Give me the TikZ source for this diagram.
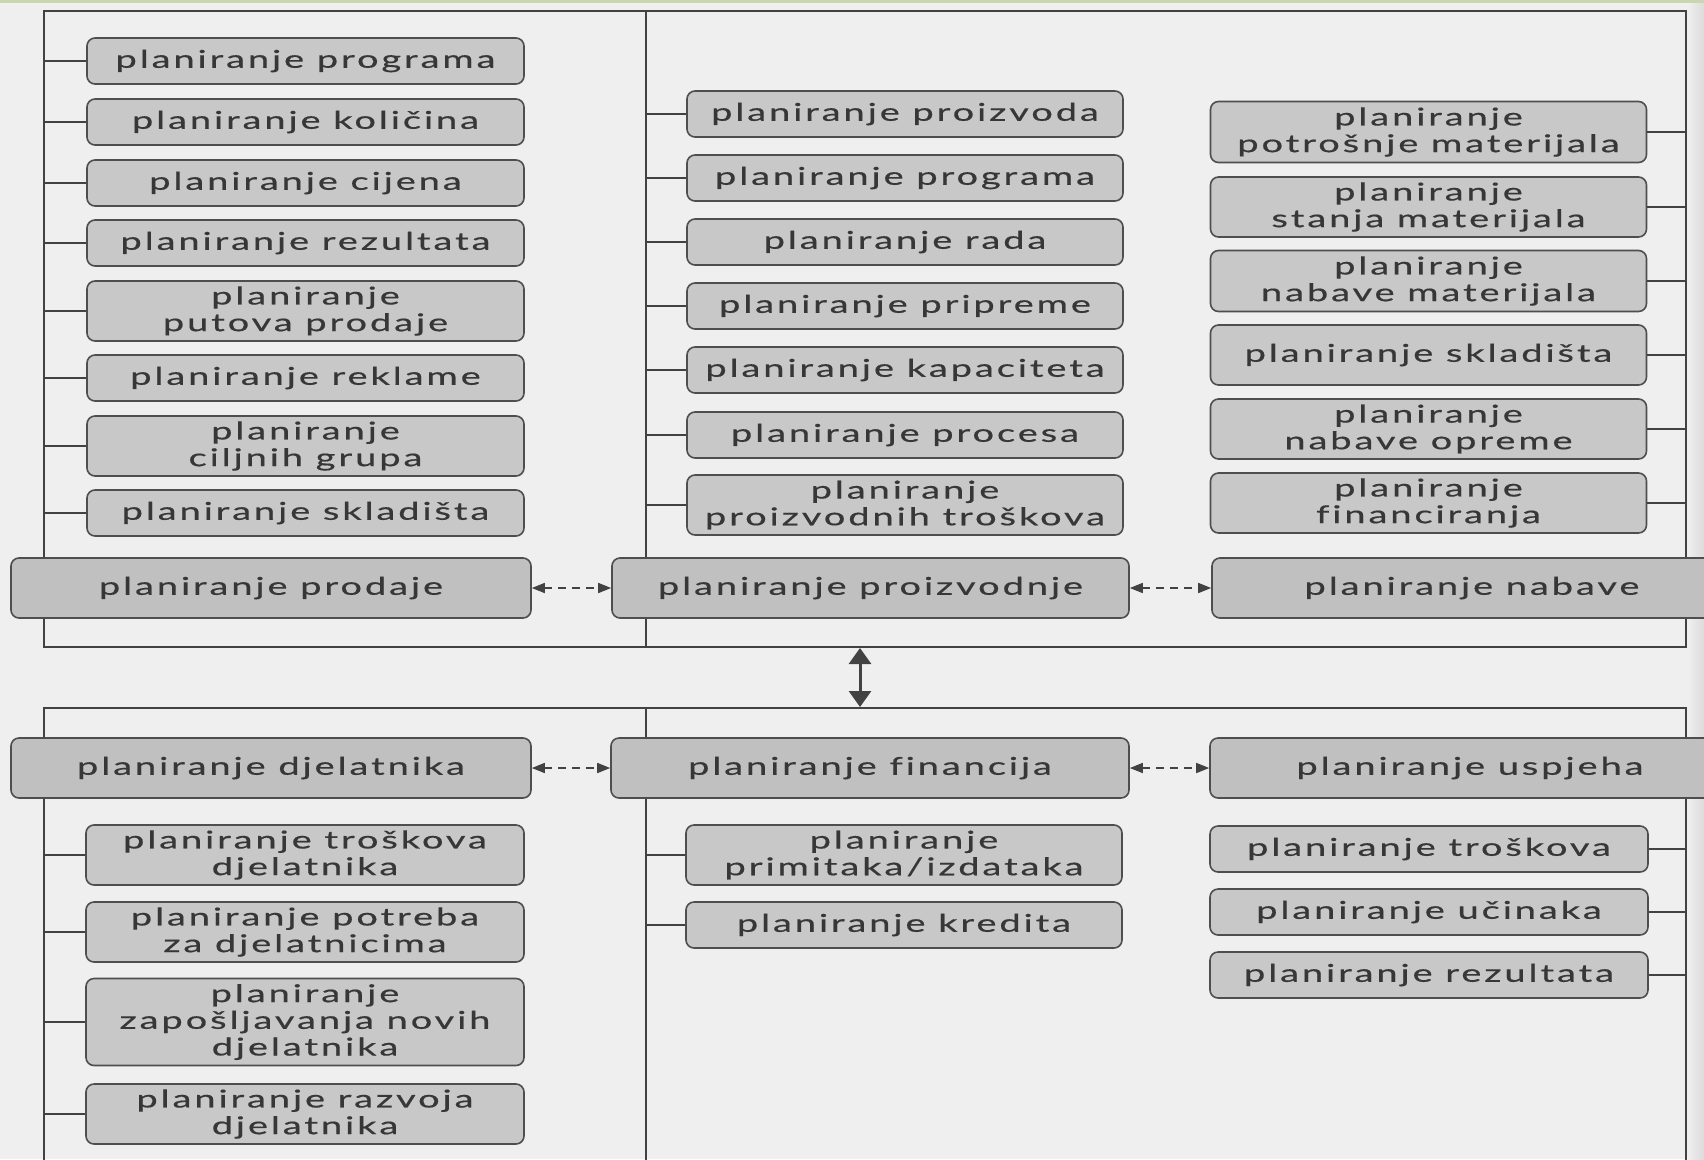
\documentclass[tikz,border=0pt]{standalone}
\usepackage{fontspec}
\setmainfont{Lato}[FakeStretch=1.55,LetterSpace=12,FakeBold=0.5,Ligatures=NoCommon]
\usetikzlibrary{arrows.meta}
\definecolor{paper}{RGB}{239,239,239}
\definecolor{boxfill}{RGB}{200,200,200}
\definecolor{mainfill}{RGB}{192,192,192}
\definecolor{edge}{RGB}{78,78,78}
\definecolor{ink}{RGB}{55,55,55}
\definecolor{rule}{RGB}{66,66,66}
\definecolor{topstrip}{RGB}{201,213,180}
\begin{document}
\begin{tikzpicture}[x=1bp,y=-1bp,
  item/.style={draw=edge, line width=1.6bp, fill=boxfill, rounded corners=8bp,
    text=ink, align=center, inner sep=0pt,
    font=\fontsize{24.5bp}{26.7bp}\selectfont},
  mainbox/.style={item, fill=mainfill, minimum width=520bp, minimum height=60bp},
  wL/.style={minimum width=437bp},
  wM/.style={minimum width=436bp},
  wR/.style={minimum width=436bp},
  h1/.style={minimum height=46bp},
  h2/.style={minimum height=60bp},
  h3/.style={minimum height=87bp},
  frame/.style={draw=rule, line width=2bp},
  stub/.style={draw=rule, line width=1.8bp},
  link/.style={draw=rule, line width=1.6bp, dash pattern=on 8bp off 6bp,
    {Triangle[length=13bp,width=10bp]}-{Triangle[length=13bp,width=10bp]}},
  bothway/.style={draw=rule, line width=3bp,
    {Triangle[length=16bp,width=22bp]}-{Triangle[length=16bp,width=22bp]}}
]
\useasboundingbox (0,0) rectangle (1704,1159);
\clip (0,0) rectangle (1704,1159);
\fill[paper] (0,0) rectangle (1704,1159);
\fill[topstrip] (0,0) rectangle (1704,3);
\shade[left color=paper, right color=black!14] (1688,3) rectangle (1704,1159);

% frame guide coordinates
\coordinate (L) at (44,0);
\coordinate (M) at (646,0);
\coordinate (R) at (1686,0);

% upper frame
\draw[frame] (44,647) -- (44,11) -- (1686,11) -- (1686,647) -- cycle;
\draw[frame] (646,11) -- (646,647);
% lower frame
\draw[frame] (44,1165) -- (44,708) -- (1686,708) -- (1686,1165);
\draw[frame] (646,708) -- (646,1165);

% sales planning branch
\node[item,wL,h1] (p1) at (305.5,61)  {planiranje programa};
\node[item,wL,h1] (p2) at (305.5,122) {planiranje količina};
\node[item,wL,h1] (p3) at (305.5,183) {planiranje cijena};
\node[item,wL,h1] (p4) at (305.5,243) {planiranje rezultata};
\node[item,wL,h2] (p5) at (305.5,311) {planiranje\\putova prodaje};
\node[item,wL,h1] (p6) at (305.5,378) {planiranje reklame};
\node[item,wL,h2] (p7) at (305.5,446) {planiranje\\ciljnih grupa};
\node[item,wL,h1] (p8) at (305.5,513) {planiranje skladišta};
\foreach \n in {p1,p2,p3,p4,p5,p6,p7,p8}
  \draw[stub] (\n.west) -- (\n.west -| L);

% production planning branch
\node[item,wM,h1] (m1) at (905,114) {planiranje proizvoda};
\node[item,wM,h1] (m2) at (905,178) {planiranje programa};
\node[item,wM,h1] (m3) at (905,242) {planiranje rada};
\node[item,wM,h1] (m4) at (905,306) {planiranje pripreme};
\node[item,wM,h1] (m5) at (905,370) {planiranje kapaciteta};
\node[item,wM,h1] (m6) at (905,435) {planiranje procesa};
\node[item,wM,h2] (m7) at (905,505) {planiranje\\proizvodnih troškova};
\foreach \n in {m1,m2,m3,m4,m5,m6,m7}
  \draw[stub] (\n.west) -- (\n.west -| M);

% procurement planning branch
\node[item,wR,minimum height=61bp] (n1) at (1428.5,132) {planiranje\\potrošnje materijala};
\node[item,wR,h2] (n2) at (1428.5,207) {planiranje\\stanja materijala};
\node[item,wR,minimum height=61bp] (n3) at (1428.5,281) {planiranje\\nabave materijala};
\node[item,wR,h2] (n4) at (1428.5,355) {planiranje skladišta};
\node[item,wR,h2] (n5) at (1428.5,429) {planiranje\\nabave opreme};
\node[item,wR,h2] (n6) at (1428.5,503) {planiranje\\financiranja};
\foreach \n in {n1,n2,n3,n4,n5,n6}
  \draw[stub] (\n.east) -- (\n.east -| R);

% main planning areas
\node[mainbox] (prodaja) at (271,588) {planiranje prodaje};
\node[mainbox,minimum width=517bp] (proizvodnja) at (870.5,588) {planiranje proizvodnje};
\node[mainbox] (nabava) at (1472,588) {planiranje nabave};
\node[mainbox] (djelatnici) at (271,768) {planiranje djelatnika};
\node[mainbox,minimum width=518bp] (financije) at (870,768) {planiranje financija};
\node[mainbox] (uspjeh) at (1470,768) {planiranje uspjeha};

\draw[link] (prodaja) -- (proizvodnja);
\draw[link] (proizvodnja) -- (nabava);
\draw[link] (djelatnici) -- (financije);
\draw[link] (financije) -- (uspjeh);

% link between the two frames
\coordinate (gorni) at (860,648);
\coordinate (donji) at (860,707);
\draw[bothway] (gorni) -- (donji);

% staff planning branch
\node[item,minimum width=438bp,h2] (d1) at (305,855) {planiranje troškova\\djelatnika};
\node[item,minimum width=438bp,h2] (d2) at (305,932) {planiranje potreba\\za djelatnicima};
\node[item,minimum width=438bp,h3] (d3) at (305,1022) {planiranje\\zapošljavanja novih\\djelatnika};
\node[item,minimum width=438bp,h2] (d4) at (305,1114) {planiranje razvoja\\djelatnika};
\foreach \n in {d1,d2,d3,d4}
  \draw[stub] (\n.west) -- (\n.west -| L);

% finance planning branch
\node[item,wM,h2] (f1) at (904,855) {planiranje\\primitaka/izdataka};
\node[item,wM,h1] (f2) at (904,925) {planiranje kredita};
\foreach \n in {f1,f2}
  \draw[stub] (\n.west) -- (\n.west -| M);

% results planning branch
\node[item,minimum width=438bp,h1] (u1) at (1429,849) {planiranje troškova};
\node[item,minimum width=438bp,h1] (u2) at (1429,912) {planiranje učinaka};
\node[item,minimum width=438bp,h1] (u3) at (1429,975) {planiranje rezultata};
\foreach \n in {u1,u2,u3}
  \draw[stub] (\n.east) -- (\n.east -| R);
\end{tikzpicture}
\end{document}
